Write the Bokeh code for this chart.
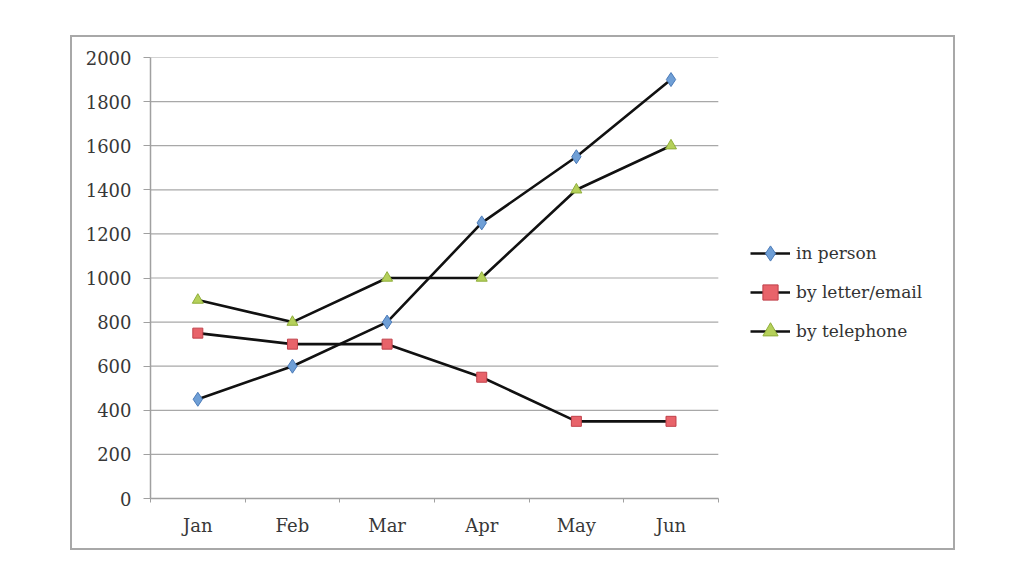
from bokeh.plotting import figure
from bokeh.models import FixedTicker, Legend, LegendItem, Spacer, Range1d
from bokeh.layouts import row, column
from bokeh.embed import file_html
from bokeh.resources import INLINE

months = ["Jan", "Feb", "Mar", "Apr", "May", "Jun"]
in_person = [450, 600, 800, 1250, 1550, 1900]
by_letter_email = [750, 700, 700, 550, 350, 350]
by_telephone = [900, 800, 1000, 1000, 1400, 1600]
y_ticks = list(range(0, 2001, 200))

n = len(months)
xs = [i + 0.5 for i in range(n)]

FONT = "DejaVu Serif"

PLOT_W = 565          # width of the data area in px
FRAME_W = 803         # frame incl. legend area
x_end = n * FRAME_W / PLOT_W

p = figure(output_backend="svg", toolbar_location=None,
           frame_width=FRAME_W, frame_height=437,
           min_border_left=78, min_border_right=0,
           min_border_top=20, min_border_bottom=54,
           x_range=Range1d(0, x_end), y_range=Range1d(0, 2000))
p.outline_line_color = None
p.background_fill_color = "white"
p.border_fill_color = "white"
p.styles = {"border": "2px solid #a8a8a8"}

# axes
p.xaxis.ticker = FixedTicker(ticks=xs, minor_ticks=list(range(n + 1)))
p.xaxis.bounds = (0, n)
p.xaxis.major_label_overrides = {x: m for x, m in zip(xs, months)}
p.xaxis.major_tick_out = 0
p.xaxis.major_tick_in = 0
p.xaxis.minor_tick_out = 4
p.xaxis.minor_tick_in = 0
p.xaxis.minor_tick_line_color = "#a0a0a0"
p.xaxis.axis_line_color = "#a0a0a0"
p.xaxis.major_label_standoff = 12

p.yaxis.ticker = FixedTicker(ticks=y_ticks, minor_ticks=[])
p.yaxis.major_tick_out = 7
p.yaxis.major_tick_in = 0
p.yaxis.major_tick_line_color = "#a0a0a0"
p.yaxis.axis_line_color = "#a0a0a0"
p.yaxis.major_label_standoff = 12

for ax in (p.xaxis, p.yaxis):
    ax.major_label_text_font = FONT
    ax.major_label_text_font_size = "18px"
    ax.major_label_text_color = "#383838"
    ax.axis_line_width = 1.5

p.xgrid.grid_line_color = None
p.ygrid.grid_line_color = None
# horizontal gridlines limited to the data area
p.segment(x0=[0] * len(y_ticks), x1=[n] * len(y_ticks), y0=y_ticks, y1=y_ticks,
          line_color="#a8a8a8", line_width=1.2, level="underlay")

items = []
series = [
    ("in person", in_person, "diamond", 14, "#6f9fd6", "#4a7ab8"),
    ("by letter/email", by_letter_email, "square", 10, "#e8636a", "#c0404a"),
    ("by telephone", by_telephone, "triangle", 11, "#b5d05a", "#8fae3a"),
]
for label, vals, marker, size, fill, line in series:
    r1 = p.line(xs, vals, line_color="#111111", line_width=2.6)
    r2 = p.scatter(xs, vals, marker=marker, size=size, fill_color=fill,
                   line_color=line, line_width=1)
    items.append(LegendItem(label=label, renderers=[r1, r2]))

legend = Legend(items=items, location=(600, 148), orientation="vertical",
                glyph_width=40, glyph_height=38, label_height=38, spacing=1,
                padding=0, margin=0, label_standoff=6,
                label_text_font=FONT, label_text_font_size="17px",
                label_text_color="#333333",
                border_line_color=None, background_fill_alpha=0)
p.add_layout(legend, "center")

layout = row(Spacer(width=70), column(Spacer(height=35), p))
open("out.html", "w").write(file_html(layout, INLINE))
